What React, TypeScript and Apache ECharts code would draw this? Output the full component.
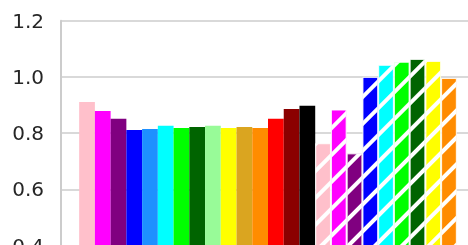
import React, { useEffect, useRef } from "react";
import * as echarts from "echarts";

const categories = ["group"];
const barNames = [
  "pink", "magenta", "purple", "blue", "dodgerblue", "cyan", "lime", "darkgreen",
  "palegreen", "yellow", "goldenrod", "darkorange", "red", "darkred", "black",
  "pink (hatched)", "magenta (hatched)", "purple (hatched)", "blue (hatched)",
  "cyan (hatched)", "lime (hatched)", "darkgreen (hatched)", "yellow (hatched)", "orange (hatched)",
];
const barValues = [
  0.911, 0.879, 0.851, 0.811, 0.815, 0.826, 0.818, 0.822,
  0.826, 0.818, 0.822, 0.818, 0.851, 0.886, 0.897,
  0.764, 0.884, 0.728, 1.0, 1.043, 1.054, 1.064, 1.057, 0.996,
];
const barColors = [
  "#ffc0cb", "#ff00ff", "#800080", "#0000ff", "#1e90ff", "#00ffff", "#00ff00", "#006400",
  "#98fb98", "#ffff00", "#daa520", "#ff8c00", "#ff0000", "#8b0000", "#000000",
  "#ffc0cb", "#ff00ff", "#800080", "#0000ff", "#00ffff", "#00ff00", "#006400", "#ffff00", "#ff8c00",
];
const barHatched = [
  false, false, false, false, false, false, false, false,
  false, false, false, false, false, false, false,
  true, true, true, true, true, true, true, true, true,
];
const yTicks = { min: 0.4, max: 1.2, interval: 0.2 };

export default function App() {
  const ref = useRef<HTMLDivElement>(null);
  useEffect(() => {
    if (!ref.current) return;
    const chart = echarts.init(ref.current, null, { renderer: "svg" });
    const series = barNames.map((name, i) => ({
      name,
      type: "bar",
      barGap: "0%",
      barCategoryGap: "8.77%",
      data: [barValues[i]],
      itemStyle: barHatched[i]
        ? {
            color: barColors[i],
            borderColor: "rgba(255,255,255,0.55)",
            borderWidth: 1,
            decal: {
              symbol: "rect",
              symbolSize: 1,
              color: "#ffffff",
              dashArrayX: [1, 0],
              dashArrayY: [4, 14.5],
              rotation: -Math.PI / 4,
            },
          }
        : { color: barColors[i] },
    }));
    chart.setOption({
      animation: false,
      grid: {
        left: 61,
        top: 20.7,
        width: 414,
        height: 224.8,
        containLabel: false,
        outerBoundsMode: "none",
      },
      xAxis: {
        type: "category",
        data: categories,
        axisLine: { show: false },
        axisTick: { show: false },
        axisLabel: { show: false },
        splitLine: { show: false },
      },
      yAxis: {
        type: "value",
        min: yTicks.min,
        max: yTicks.max,
        interval: yTicks.interval,
        axisLine: { show: true, lineStyle: { color: "#cccccc", width: 2 } },
        axisTick: { show: false },
        axisLabel: {
          color: "#262626",
          fontSize: 20,
          fontFamily: "DejaVu Sans",
          margin: 17,
          formatter: (v: number) => v.toFixed(1),
        },
        splitLine: { show: true, lineStyle: { color: "#cccccc", width: 1.5 } },
      },
      series,
    });
    return () => chart.dispose();
  }, []);
  return (
    <div
      ref={ref}
      style={{ position: "fixed", left: 0, top: 0, width: 468, height: 245 }}
    />
  );
}
